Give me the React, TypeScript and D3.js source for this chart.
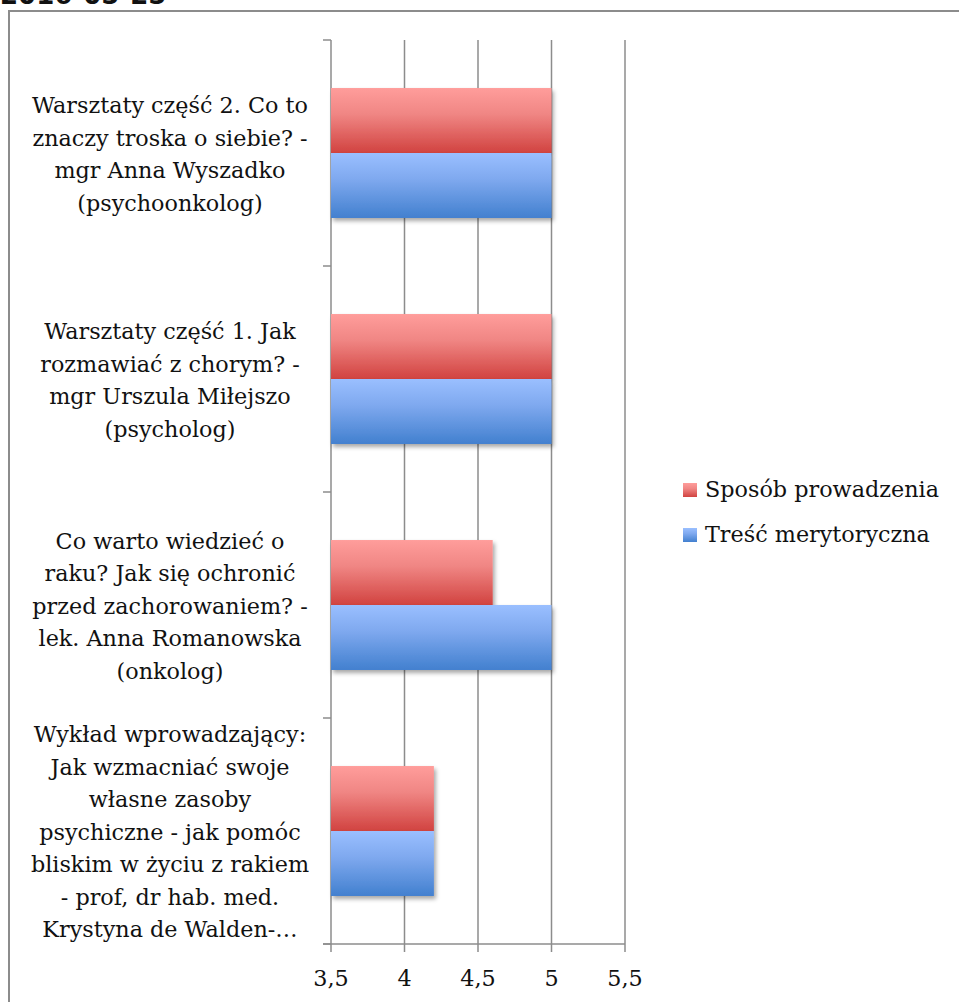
import React from 'react';
import * as d3 from 'd3';

// categories top to bottom, each label pre-broken into lines
const categories = [
  ['Warsztaty część 2. Co to', 'znaczy troska o siebie? -', 'mgr Anna Wyszadko', '(psychoonkolog)'],
  ['Warsztaty część 1. Jak', 'rozmawiać z chorym? -', 'mgr Urszula Miłejszo', '(psycholog)'],
  ['Co warto wiedzieć o', 'raku? Jak się ochronić', 'przed zachorowaniem? -', 'lek. Anna Romanowska', '(onkolog)'],
  ['Wykład wprowadzający:', 'Jak wzmacniać swoje', 'własne zasoby', 'psychiczne - jak pomóc', 'bliskim w życiu z rakiem', '- prof, dr hab. med.', 'Krystyna de Walden-…'],
];
const seriesNames = ['Sposób prowadzenia', 'Treść merytoryczna'];
const sposob = [5, 5, 4.6, 4.2];
const tresc = [5, 5, 5, 4.2];
const xTicks = [3.5, 4, 4.5, 5, 5.5];

const width = 959;
const height = 1002;
const font = '"DejaVu Serif", serif';
const fontSize = 22.3;
const lineH = 32.5;
const gridColor = '#8c8c8c';

export default function App() {
  const x = d3.scaleLinear().domain([3.5, 5.5]).range([331, 625]);
  const y = d3.scaleBand<number>()
    .domain(d3.range(categories.length))
    .range([40, 944])
    .paddingInner(0.425)
    .paddingOuter(0.2125);
  const sub = d3.scaleBand<number>().domain([0, 1]).range([0, y.bandwidth()]);
  const step = y.step();
  const boundaries = d3.range(categories.length + 1).map(i => 40 + i * step);
  const series = [sposob, tresc];
  const fmt = (v: number) => String(v).replace('.', ',');

  return (
    <svg width={width} height={height} style={{ position: 'absolute', left: 0, top: 0 }}
      fontFamily={font}>
      <defs>
        <linearGradient id="gRed" x1="0" y1="0" x2="0" y2="1">
          <stop offset="0%" stopColor="#ff9d9b" />
          <stop offset="40%" stopColor="#f08684" />
          <stop offset="100%" stopColor="#d14340" />
        </linearGradient>
        <linearGradient id="gBlue" x1="0" y1="0" x2="0" y2="1">
          <stop offset="0%" stopColor="#9abfff" />
          <stop offset="40%" stopColor="#7fa9ef" />
          <stop offset="100%" stopColor="#4280cf" />
        </linearGradient>
        <filter id="shadow" x="-10%" y="-10%" width="130%" height="140%">
          <feDropShadow dx="2" dy="3" stdDeviation="2" floodColor="#000" floodOpacity="0.35" />
        </filter>
      </defs>

      {/* date heading, cut off at the top as in the page it came from */}
      <text x={0} y={4} fontFamily='"DejaVu Sans", sans-serif' fontWeight="bold" fontSize={26} fill="#111">
        2016-05-25
      </text>

      {/* chart frame */}
      <path d={`M9,${height} V11 H${width}`} fill="none" stroke={gridColor} strokeWidth={2} />

      {/* vertical grid */}
      {xTicks.map(t => (
        <line key={t} x1={x(t)} x2={x(t)} y1={40} y2={952} stroke={gridColor} strokeWidth={1.5} />
      ))}
      {/* x axis */}
      <line x1={323} x2={x(5.5)} y1={944} y2={944} stroke={gridColor} strokeWidth={1.5} />
      {/* category ticks */}
      {boundaries.map((b, i) => (
        <line key={i} x1={323} x2={x(3.5)} y1={b} y2={b} stroke={gridColor} strokeWidth={1.5} />
      ))}

      {/* bars */}
      {categories.map((_, i) => (
        <g key={i} transform={`translate(0,${y(i)})`}>
          {series.map((s, j) => (
            <rect key={j} x={x(3.5)} y={sub(j)} width={x(s[i]) - x(3.5)} height={sub.bandwidth()}
              fill={j === 0 ? 'url(#gRed)' : 'url(#gBlue)'} filter="url(#shadow)" />
          ))}
        </g>
      ))}

      {/* category labels */}
      {categories.map((lines, i) => {
        const cy = (y(i) as number) + y.bandwidth() / 2;
        const top = cy - (lines.length * lineH) / 2;
        return (
          <text key={i} textAnchor="middle" fontSize={fontSize} fill="#111">
            {lines.map((l, k) => (
              <tspan key={k} x={170} y={top + k * lineH + 25}>{l}</tspan>
            ))}
          </text>
        );
      })}

      {/* x tick labels */}
      {xTicks.map(t => (
        <text key={t} x={x(t)} y={986} textAnchor="middle" fontSize={fontSize} fill="#111">{fmt(t)}</text>
      ))}

      {/* legend */}
      {seriesNames.map((n, j) => (
        <g key={n} transform={`translate(683,${483 + j * 45})`}>
          <rect width={14} height={14} fill={j === 0 ? 'url(#gRed)' : 'url(#gBlue)'} />
          <text x={22} y={14} fontSize={fontSize} fill="#111">{n}</text>
        </g>
      ))}
    </svg>
  );
}
